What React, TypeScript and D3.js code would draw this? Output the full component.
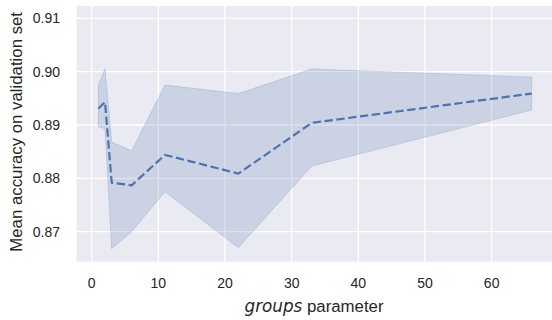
import React from "react";
import * as d3 from "d3";

const groups = [1, 2, 3, 6, 11, 22, 33, 66];
const meanAcc = [0.8931, 0.8943, 0.8792, 0.8787, 0.8844, 0.8809, 0.8904, 0.8959];
const upperAcc = [0.8975, 0.9006, 0.8868, 0.8852, 0.8975, 0.8959, 0.9005, 0.899];
const lowerAcc = [0.8897, 0.8893, 0.8668, 0.87, 0.8775, 0.867, 0.8823, 0.8928];
const xTicks = [0, 10, 20, 30, 40, 50, 60];
const yTicks = [0.87, 0.88, 0.89, 0.9, 0.91];

const W = 552;
const H = 320;
const left = 76.7;
const right = 553.3;
const top = 6;
const bottom = 261.7;

export default function App() {
  const x = d3.scaleLinear().domain([-2.25, 69.25]).range([left, right]);
  const y = d3.scaleLinear().domain([0.86438, 0.91231]).range([bottom, top]);
  const rows = groups.map((g, i) => ({ g, m: meanAcc[i], lo: lowerAcc[i], hi: upperAcc[i] }));
  const area = d3
    .area<any>()
    .x((d) => x(d.g))
    .y0((d) => y(d.lo))
    .y1((d) => y(d.hi));
  const line = d3
    .line<any>()
    .x((d) => x(d.g))
    .y((d) => y(d.m));
  const font = "'Liberation Sans', Arial, sans-serif";
  return (
    <svg
      width={W}
      height={H}
      style={{ position: "absolute", left: 0, top: 0, background: "#ffffff" }}
    >
      <rect x={left} y={top} width={right - left} height={bottom - top} fill="#eaeaf2" />
      {xTicks.map((t) => (
        <line key={"gx" + t} x1={x(t)} x2={x(t)} y1={top} y2={bottom} stroke="#ffffff" strokeWidth={1.3} />
      ))}
      {yTicks.map((t) => (
        <line key={"gy" + t} x1={left} x2={right} y1={y(t)} y2={y(t)} stroke="#ffffff" strokeWidth={1.3} />
      ))}
      <path
        d={area(rows) || ""}
        fill="#4c72b0"
        fillOpacity={0.2}
        stroke="#4c72b0"
        strokeOpacity={0.2}
        strokeWidth={1}
      />
      <path
        d={line(rows) || ""}
        fill="none"
        stroke="#4c72b0"
        strokeWidth={2.2}
        strokeDasharray="8.3,3.6"
      />
      {xTicks.map((t) => (
        <text
          key={"tx" + t}
          x={x(t)}
          y={288}
          textAnchor="middle"
          fontFamily={font}
          fontSize={14}
          fill="#262626"
        >
          {t}
        </text>
      ))}
      {yTicks.map((t) => (
        <text
          key={"ty" + t}
          x={60}
          y={y(t)}
          dy="0.35em"
          textAnchor="end"
          fontFamily={font}
          fontSize={14}
          fill="#262626"
        >
          {t.toFixed(2)}
        </text>
      ))}
      <text x={314} y={311.5} textAnchor="middle" fontSize={16.8} fill="#262626" fontFamily={font}>
        <tspan fontFamily="'DejaVu Sans', sans-serif" fontStyle="italic">
          groups
        </tspan>
        <tspan> parameter</tspan>
      </text>
      <text
        transform={`translate(21.5, ${(top + bottom) / 2 - 2}) rotate(-90)`}
        textAnchor="middle"
        fontSize={16.8}
        fill="#262626"
        fontFamily={font}
      >
        Mean accuracy on validation set
      </text>
    </svg>
  );
}
